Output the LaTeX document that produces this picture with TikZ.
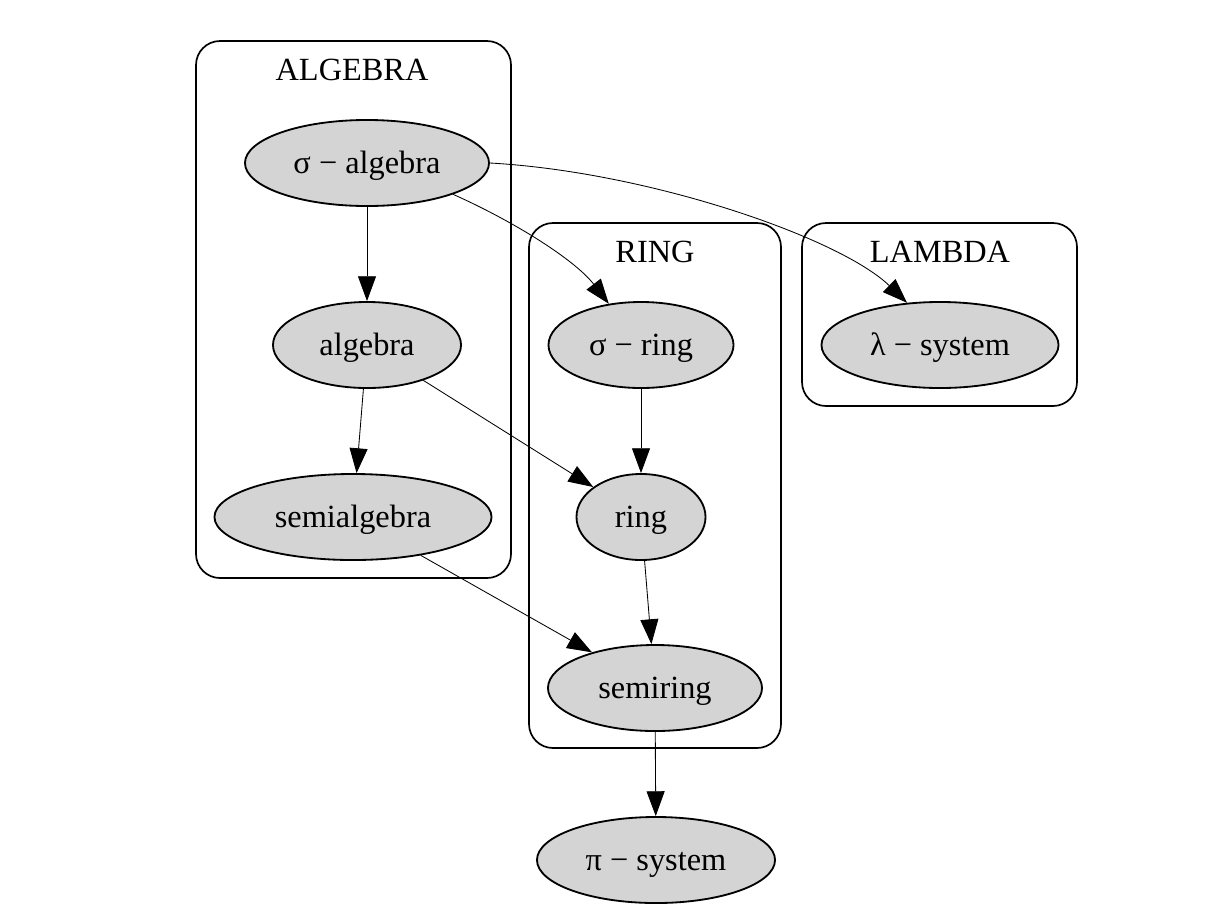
\documentclass[tikz,border=0pt]{standalone}
\usepackage{fontspec}
\setmainfont{Liberation Serif}
\usepackage{tikz}
\usetikzlibrary{shapes.geometric,arrows.meta}
\tikzstyle{nodogrigio} = [ellipse,draw=black,line width=1.3pt,fill=black!17,minimum height=2.15cm,inner sep=0pt,text height=0.55cm,text depth=0.05cm,text centered]
\tikzstyle{gruppo} = [draw=black,line width=1.2pt,rounded corners=0.6cm]
\tikzstyle{etichetta} = [inner sep=0pt]
\tikzstyle{freccia} = [line width=0.6pt,-{Triangle[length=0.62cm,width=0.45cm]}]

\begin{document}
\begin{tikzpicture}[x=0.025cm,y=-0.025cm]
\tikzstyle{every node}=[font=\fontsize{23}{28}\selectfont]
\useasboundingbox (0,0) rectangle (1228,922);

% clusters
\draw[gruppo] (196,41) rectangle (511,578);
\draw[gruppo] (529,223) rectangle (781,748);
\draw[gruppo] (802,223) rectangle (1077,406);

\node (lblalg) [etichetta] at (352,70) {ALGEBRA};
\node (lblring) [etichetta] at (655,252) {RING};
\node (lbllam) [etichetta] at (940,252) {LAMBDA};

% nodes
\node (sa) [nodogrigio,minimum width=6.1cm] at (367,163) {σ − algebra};
\node (al) [nodogrigio,minimum width=4.7cm] at (367,345) {algebra};
\node (se) [nodogrigio,minimum width=6.925cm] at (353,517) {semialgebra};

\node (sr) [nodogrigio,minimum width=4.625cm] at (641,345) {σ − ring};
\node (ri) [nodogrigio,minimum width=3.225cm] at (641,517) {ring};
\node (sm) [nodogrigio,minimum width=5.35cm] at (655,688) {semiring};

\node (ls) [nodogrigio,minimum width=5.925cm] at (940,345) {λ − system};
\node (ps) [nodogrigio,minimum width=5.95cm] at (656,860) {π − system};

% edges
\draw[freccia] (sa) -- (al);
\draw[freccia] (sa.-20) .. controls (515,222) and (575,260) .. (sr.128);
\draw[freccia] (sa.east) .. controls (650,172) and (840,238) .. (ls.128);
\draw[freccia] (al) -- (se);
\draw[freccia] (al) -- (ri);
\draw[freccia] (sr) -- (ri);
\draw[freccia] (ri) -- (sm);
\draw[freccia] (se) -- (sm);
\draw[freccia] (sm) -- (ps);

\end{tikzpicture}
\end{document}
